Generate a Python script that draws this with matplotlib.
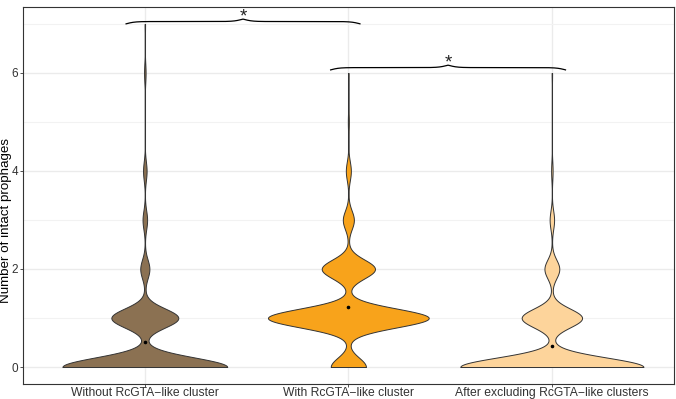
import numpy as np
import matplotlib
matplotlib.use('Agg')
from matplotlib import pyplot as plt

plt.rcParams['font.family'] = ['Liberation Sans', 'DejaVu Sans']

# Число интактных профагов (0..7) и сколько геномов имеют каждое значение
groups = ['Without RcGTA−like cluster', 'With RcGTA−like cluster',
          'After excluding RcGTA−like clusters']
values = [0, 1, 2, 3, 4, 5, 6, 7]
counts_without = [325, 132, 18, 9, 7, 0, 3, 1]
counts_with = [70, 320, 106, 22, 10, 2, 1, 0]
counts_after = [370, 122, 30, 9, 3, 0, 1, 0]

# Скобки со значимостью: (x начала, x конца, y концов, текст)
brackets = [(0.905, 2.06, 7.0, '*'), (1.91, 3.07, 6.06, '*')]

fills = ['#8B7152', '#F8A31B', '#FDD49B']
edge = '#333333'
max_widths = [0.81, 0.79, 0.90]

data = [np.repeat(values, c) for c in (counts_without, counts_with, counts_after)]


def nrd0(x):
    # правило Сильвермана как в R (bw.nrd0), возвращаем множитель к std
    sd = x.std(ddof=1)
    iqr = np.subtract(*np.percentile(x, [75, 25]))
    lo = min(sd, iqr / 1.34)
    if lo == 0:
        lo = sd
    h = 0.9 * lo * len(x) ** -0.2
    return h / sd


def brace(ax, x0, x1, y, height=0.1, beta=45.0):
    xs = np.linspace(x0, x1, 400)
    mid = (x0 + x1) / 2
    half = np.minimum(xs - x0, x1 - xs)
    s = 1 / (1 + np.exp(-beta * half)) + 1 / (1 + np.exp(-beta * (half - (mid - x0))))
    ax.plot(xs, y + (s - 0.5) * height, color='black', lw=0.9, solid_capstyle='butt')


fig = plt.figure(figsize=(6.76, 3.99), dpi=100)
ax = fig.add_axes([0.0336, 0.0388, 0.9634, 0.9437])

for i, d in enumerate(data):
    parts = ax.violinplot([d], positions=[i + 1], widths=max_widths[i],
                          showextrema=False, bw_method=nrd0(d), points=512)
    for body in parts['bodies']:
        body.set_facecolor(fills[i])
        body.set_edgecolor(edge)
        body.set_linewidth(0.7)
        body.set_alpha(1)
        body.set_zorder(3)
    ax.scatter([i + 1], [d.mean()], s=2.5, color='black', zorder=4)

for x0, x1, y, label in brackets:
    brace(ax, x0, x1, y)
    ax.text((x0 + x1) / 2, y + 0.14, label, ha='center', va='center',
            fontsize=13.5, color='#222222')

ax.set_xlim(0.4, 3.6)
ax.set_ylim(-0.337, 7.347)
ax.set_xticks([1, 2, 3])
ax.set_xticklabels(groups)
ax.set_yticks([0, 2, 4, 6])
ax.set_yticks([1, 3, 5, 7], minor=True)
ax.grid(True, which='major', color='#EBEBEB', lw=1.0)
ax.grid(True, which='minor', axis='y', color='#F2F2F2', lw=0.8)
ax.set_axisbelow(True)
ax.tick_params(axis='both', which='major', length=2, width=0.6, color='#333333',
               labelcolor='#333333')
ax.tick_params(axis='x', which='major', labelsize=8.7, pad=0.3)
ax.tick_params(axis='y', which='major', labelsize=8.5, pad=1.5)
ax.tick_params(axis='y', which='minor', length=0)
for sp in ax.spines.values():
    sp.set_color('#333333')
    sp.set_linewidth(0.8)
ax.set_ylabel('Number of intact prophages', fontsize=9.6)
ax.yaxis.set_label_coords(-0.0165, 0.434)

fig.savefig('out.png', dpi=100)
